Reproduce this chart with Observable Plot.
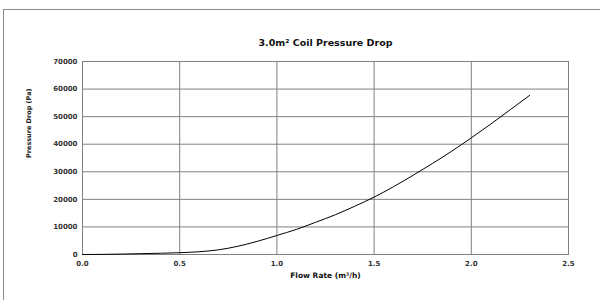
<!DOCTYPE html>
<html>
<head>
<meta charset="utf-8">
<script src="https://cdn.jsdelivr.net/npm/d3@7"></script>
<script src="https://cdn.jsdelivr.net/npm/@observablehq/plot@0.6"></script>
<style>
  html, body { margin: 0; padding: 0; background: #fff; overflow: hidden; width: 600px; height: 300px; }
  #wrap { position: relative; width: 600px; height: 300px; }
  #border { position: absolute; left: 3px; top: 9px; width: 620px; height: 320px; border: 1px solid #8a8a8a; box-sizing: border-box; pointer-events: none; }
  #chart { position: absolute; left: 0; top: 0; }
</style>
</head>
<body>
<div id="wrap"><div id="border"></div><div id="chart"></div></div>
<script>
const title = "3.0m\u00B2 Coil Pressure Drop";
const xLabel = "Flow Rate (m\u00B3/h)";
const yLabel = "Pressure Drop (Pa)";
const flowRate = [0.0, 0.1, 0.2, 0.3, 0.4, 0.5, 0.6, 0.7, 0.8, 0.9, 1.0, 1.1, 1.2, 1.3, 1.4, 1.5, 1.6, 1.7, 1.8, 1.9, 2.0, 2.1, 2.2, 2.3];
const pressureDrop = [0, 50, 150, 300, 450, 650, 1000, 1700, 3000, 4800, 6900, 9100, 11700, 14400, 17500, 20800, 24600, 28700, 33000, 37500, 42300, 47300, 52500, 57700];
const xTicks = [0, 0.5, 1.0, 1.5, 2.0, 2.5];
const yTicks = [0, 10000, 20000, 30000, 40000, 50000, 60000, 70000];

const data = flowRate.map((x, i) => ({x, y: pressureDrop[i]}));

const chart = Plot.plot({
  width: 600,
  height: 300,
  marginLeft: 82,
  marginRight: 32,
  marginTop: 61,
  marginBottom: 46,
  style: {fontFamily: "'DejaVu Sans', Verdana, sans-serif", fontSize: "7px", background: "transparent"},
  x: {domain: [0, 2.5], ticks: xTicks, tickFormat: d3.format(".1f"), label: null, tickSize: 0, tickPadding: 7},
  y: {domain: [0, 70000], ticks: yTicks, tickFormat: d3.format("d"), label: null, tickSize: 0, tickPadding: 5},
  marks: [
    Plot.gridX(xTicks, {stroke: "#808080", strokeOpacity: 1}),
    Plot.gridY(yTicks, {stroke: "#808080", strokeOpacity: 1}),
    Plot.frame({stroke: "#808080"}),
    Plot.axisX(xTicks, {tickSize: 0, tickPadding: 7, tickFormat: d3.format(".1f"), label: null, fill: "#333", fontWeight: "bold"}),
    Plot.axisY(yTicks, {tickSize: 0, tickPadding: 5, tickFormat: d3.format("d"), label: null, fill: "#333", fontWeight: "bold"}),
    Plot.line(data, {x: "x", y: "y", stroke: "#000", strokeWidth: 1, curve: "monotone-x"}),
    Plot.text([title], {frameAnchor: "top", dy: -22, fontSize: 9.5, fontWeight: "bold", fill: "#111"}),
    Plot.text([xLabel], {frameAnchor: "bottom", dy: 23, fontSize: 7.5, fontWeight: "bold", fill: "#111"}),
    Plot.text([yLabel], {frameAnchor: "left", dx: -54, rotate: -90, fontSize: 6.5, fontWeight: "bold", fill: "#222"})
  ]
});
document.getElementById("chart").appendChild(chart);
</script>
</body>
</html>
